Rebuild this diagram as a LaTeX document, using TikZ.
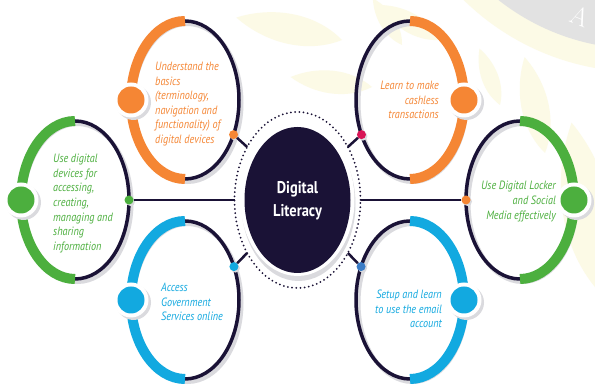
\documentclass[tikz,border=0pt]{standalone}
\usepackage{fontspec}
\newfontfamily\labelfont{PT Sans}[FakeStretch=0.85]
\usetikzlibrary{calc}

\definecolor{navy}{HTML}{1A1236}
\definecolor{orng}{HTML}{F58634}
\definecolor{grn}{HTML}{4CAF3E}
\definecolor{cyanblue}{HTML}{12A9E0}
\definecolor{crimson}{HTML}{D81556}
\definecolor{midblue}{HTML}{3A7CC6}
\definecolor{leafc}{HTML}{FCFAE6}
\definecolor{emblem}{HTML}{E2E2E2}
\definecolor{ringshade}{HTML}{DADADE}

\tikzset{
  itemtext/.style={font=\labelfont\itshape\fontsize{12}{14.6}\selectfont, inner sep=0pt},
  coretext/.style={font=\labelfont\bfseries\fontsize{17}{23}\selectfont, text=white, align=center, inner sep=0pt},
  bigdot/.style={circle, inner sep=0pt, minimum size=27pt},
  halo/.style={circle, inner sep=0pt, minimum size=35pt, fill=white},
  smalldot/.style={circle, inner sep=0pt, minimum size=9pt},
  link/.style={navy, line width=2.5pt},
}

% one goal ring: centre coordinate, colour, start angle of the coloured half, name prefix
\newcommand{\goalring}[4]{%
  \draw[ringshade, line width=4pt] ([shift={(2.5,-3)}]#1) ellipse [x radius=54pt, y radius=79pt];
  \draw[navy, line width=3.5pt] ([shift={(#1)}]#3+180:54pt and 79pt)
     arc [start angle=#3+180, end angle=#3+360, x radius=54pt, y radius=79pt];
  \draw[#2, line width=10pt] ([shift={(#1)}]#3:54pt and 79pt)
     arc [start angle=#3, end angle=#3+180, x radius=54pt, y radius=79pt];
  \coordinate (#4-pt) at ([shift={(#1)}]#3+90:54pt and 79pt);
  \node[halo, fill=ringshade] (#4-shade) at ([shift={(2.5,-2.5)}]#4-pt) {};
  \node[halo] (#4-halo) at (#4-pt) {};
  \node[bigdot, fill=#2] (#4-big) at (#4-pt) {};
}

% a small joint on a ring: ring centre, angle, colour, name
\newcommand{\joint}[4]{%
  \coordinate (#4-pt) at ([shift={(#1)}]#2:54pt and 79pt);
  \node[smalldot, fill=ringshade] (#4-shade) at ([shift={(1.5,-1.5)}]#4-pt) {};
  \node[smalldot, fill=#3] (#4) at (#4-pt) {};
}

% a faint background leaf: x, y, angle, length
\newcommand{\leafat}[4]{%
  \fill[leafc, shift={(#1,#2)}, rotate=#3] (0,0)
    .. controls (0.3*#4, 0.2*#4) and (0.7*#4, 0.17*#4) .. (#4,0)
    .. controls (0.7*#4,-0.17*#4) and (0.3*#4,-0.2*#4) .. (0,0);}

\begin{document}
\begin{tikzpicture}[x=1pt, y=1pt]
\useasboundingbox (0,0) rectangle (595,385);
\fill[white] (0,0) rectangle (595,385);

% background: leaves and emblem in the top right corner
\begin{scope}
  \clip (0,0) rectangle (595,385);
  \leafat{342}{345}{168}{108}
  \leafat{372}{298}{173}{82}
  \leafat{402}{340}{122}{55}
  \leafat{440}{345}{150}{70}
  \leafat{545}{232}{102}{98}
  \leafat{602}{90}{100}{175}
  \leafat{500}{280}{110}{60}
  \fill[leafc] (640,565) circle (252pt);
  \fill[emblem] (640,565) circle (229pt);
  \node[text=white, font=\fontsize{26}{26}\selectfont, rotate=-22] (wm) at (580,369) {A};
\end{scope}

% ring centres
\coordinate (ctl) at (185,285);
\coordinate (ctr) at (410,285);
\coordinate (cl)  at (75,185);
\coordinate (cr)  at (520,185);
\coordinate (cbl) at (185,85);
\coordinate (cbr) at (410,85);
\coordinate (mid) at (297.5,185);

% the six goal rings
\goalring{ctl}{orng}{90}{tl}
\goalring{ctr}{orng}{-90}{tr}
\goalring{cl}{grn}{90}{l}
\goalring{cr}{grn}{-90}{r}
\goalring{cbl}{cyanblue}{90}{bl}
\goalring{cbr}{cyanblue}{-90}{br}

% points where the links meet the dotted ring
\coordinate (ra) at ([shift={(mid)}]143:63pt and 88pt);
\coordinate (rb) at ([shift={(mid)}]37:63pt and 88pt);
\coordinate (rc) at ([shift={(mid)}]180:63pt and 88pt);
\coordinate (rd) at ([shift={(mid)}]0:63pt and 88pt);
\coordinate (re) at ([shift={(mid)}]217:63pt and 88pt);
\coordinate (rf) at ([shift={(mid)}]323:63pt and 88pt);

% small joints on the rings
\joint{ctl}{-26}{orng}{da}
\joint{ctr}{206}{crimson}{db}
\joint{cl}{0}{grn}{dc}
\joint{cr}{180}{orng}{dd}
\joint{cbl}{25}{cyanblue}{de}
\joint{cbr}{155}{midblue}{df}

% links to the centre
\draw[link] (da) -- (ra);
\draw[link] (db) -- (rb);
\draw[link] (dc) -- (rc);
\draw[link] (dd) -- (rd);
\draw[link] (de) -- (re);
\draw[link] (df) -- (rf);

% centre disc
\fill[ringshade] ([shift={(1,-4)}]mid) ellipse [x radius=57pt, y radius=77pt];
\fill[white] (mid) ellipse [x radius=57pt, y radius=76pt];
\fill[navy] (mid) ellipse [x radius=53pt, y radius=73pt];
\draw[navy, line width=2pt, line cap=round, dash pattern=on 0pt off 4.2pt] (mid) ellipse [x radius=63pt, y radius=88pt];
\node[coretext] (core) at (297.5,184.5) {Digital\\Literacy};

% goal texts
\node[itemtext, text=orng, align=left, anchor=west] (t1) at (155,281)
  {Understand the\\basics\\(terminology,\\navigation and\\functionality) of\\digital devices};
\node[itemtext, text=grn, align=left, anchor=west] (t2) at (53,181.5)
  {Use digital\\devices for\\accessing,\\creating,\\managing and\\sharing\\information};
\node[itemtext, text=orng, align=right, anchor=east] (t3) at (439,285)
  {Learn to make\\cashless\\transactions};
\node[itemtext, text=grn, align=right, anchor=east] (t4) at (556,183.5)
  {Use Digital Locker\\and Social\\Media effectively};
\node[itemtext, text=cyanblue, align=left, anchor=west] (t5) at (161,83)
  {Access\\Government\\Services online};
\node[itemtext, text=cyanblue, align=right, anchor=east] (t6) at (442,76)
  {Setup and learn\\to use the email\\account};
\end{tikzpicture}
\end{document}
